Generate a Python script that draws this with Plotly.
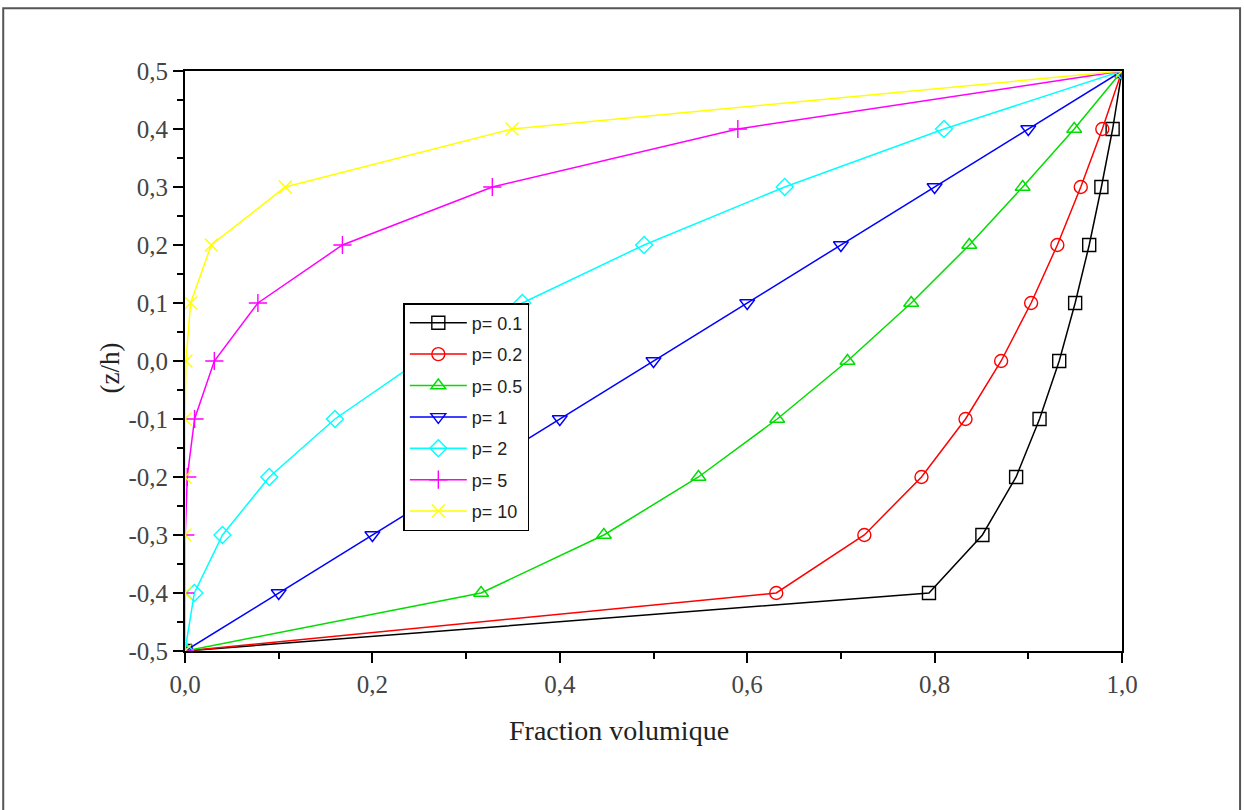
import plotly.graph_objects as go

z_h = [-0.5, -0.4, -0.3, -0.2, -0.1, 0.0, 0.1, 0.2, 0.3, 0.4, 0.5]
v_p01 = [0.0, 0.794, 0.851, 0.887, 0.912, 0.933, 0.950, 0.965, 0.978, 0.990, 1.0]
v_p02 = [0.0, 0.631, 0.725, 0.786, 0.833, 0.871, 0.903, 0.931, 0.956, 0.979, 1.0]
v_p05 = [0.0, 0.316, 0.447, 0.548, 0.632, 0.707, 0.775, 0.837, 0.894, 0.949, 1.0]
v_p1 = [0.0, 0.1, 0.2, 0.3, 0.4, 0.5, 0.6, 0.7, 0.8, 0.9, 1.0]
v_p2 = [0.0, 0.01, 0.04, 0.09, 0.16, 0.25, 0.36, 0.49, 0.64, 0.81, 1.0]
v_p5 = [0.0, 0.00001, 0.0003, 0.0024, 0.0102, 0.0313, 0.0778, 0.168, 0.328, 0.590, 1.0]
v_p10 = [0.0, 0.0, 0.0, 0.00001, 0.0001, 0.001, 0.006, 0.028, 0.107, 0.349, 1.0]

labels = ["p= 0.1", "p= 0.2", "p= 0.5", "p= 1", "p= 2", "p= 5", "p= 10"]
colors = ["#000000", "#ff0000", "#00dd00", "#0000ff", "#00ffff", "#ff00ff", "#ffff00"]
symbols = ["square-open", "circle-open", "triangle-up-open", "triangle-down-open",
           "diamond-open", "cross-thin-open", "x-thin-open"]

x_ticks = [0.0, 0.2, 0.4, 0.6, 0.8, 1.0]
x_ticktext = ["0,0", "0,2", "0,4", "0,6", "0,8", "1,0"]
y_ticks = [-0.5, -0.4, -0.3, -0.2, -0.1, 0.0, 0.1, 0.2, 0.3, 0.4, 0.5]
y_ticktext = ["-0,5", "-0,4", "-0,3", "-0,2", "-0,1", "0,0", "0,1", "0,2", "0,3", "0,4", "0,5"]

series = [v_p01, v_p02, v_p05, v_p1, v_p2, v_p5, v_p10]

fig = go.Figure()
for i, (vals, lab, col, sym) in enumerate(zip(series, labels, colors, symbols)):
    fig.add_trace(go.Scatter(
        x=vals, y=z_h, name=lab, mode="lines+markers",
        line=dict(color=col, width=1.5),
        marker=dict(symbol=sym, size=13, color=col, line=dict(color=col, width=1.4)),
        legendgroup=str(i),
    ))

serif = "Liberation Serif"
tick_font = dict(family=serif, size=25, color="#444444")

fig.update_layout(
    width=1244, height=810,
    margin=dict(l=185, r=122, t=71, b=159),
    paper_bgcolor="white", plot_bgcolor="white",
    font=dict(family=serif, size=25, color="#333333"),
    showlegend=True,
    xaxis=dict(
        range=[0, 1], tickmode="array", tickvals=x_ticks, ticktext=x_ticktext,
        showgrid=False, zeroline=False, showline=True, linecolor="#000000", linewidth=2,
        mirror=True, ticks="outside", ticklen=10, tickwidth=2, tickcolor="#000000",
        tickfont=tick_font,
        minor=dict(dtick=0.1, tick0=0, ticks="outside", ticklen=6, tickwidth=2,
                   tickcolor="#000000"),
    ),
    yaxis=dict(
        range=[-0.5, 0.5], tickmode="array", tickvals=y_ticks, ticktext=y_ticktext,
        showgrid=False, zeroline=False, showline=True, linecolor="#000000", linewidth=2,
        mirror=True, ticks="outside", ticklen=10, tickwidth=2, tickcolor="#000000",
        tickfont=tick_font,
        minor=dict(dtick=0.05, tick0=-0.5, ticks="outside", ticklen=6, tickwidth=2,
                   tickcolor="#000000"),
    ),
    legend=dict(x=0.233, y=0.6, xanchor="left", yanchor="top",
                bordercolor="#000000", borderwidth=1.5, bgcolor="white",
                font=dict(family="Liberation Sans", size=18, color="#222222"),
                tracegroupgap=5, itemwidth=57),
)

fig.add_annotation(text="Fraction volumique", xref="paper", yref="paper",
                   x=0.463, y=-0.137, showarrow=False, xanchor="center", yanchor="middle",
                   font=dict(family=serif, size=28, color="#222222"))
fig.add_annotation(text="(z/h)", xref="paper", yref="paper",
                   x=-0.08, y=0.487, showarrow=False, textangle=-90,
                   xanchor="center", yanchor="middle",
                   font=dict(family=serif, size=27, color="#222222"))

# outer frame
fig.add_shape(type="rect", xref="paper", yref="paper",
              x0=-0.194, x1=1.126, y0=-0.5, y1=1.108,
              line=dict(color="#555555", width=2), layer="below")

fig.write_html("out.html")
